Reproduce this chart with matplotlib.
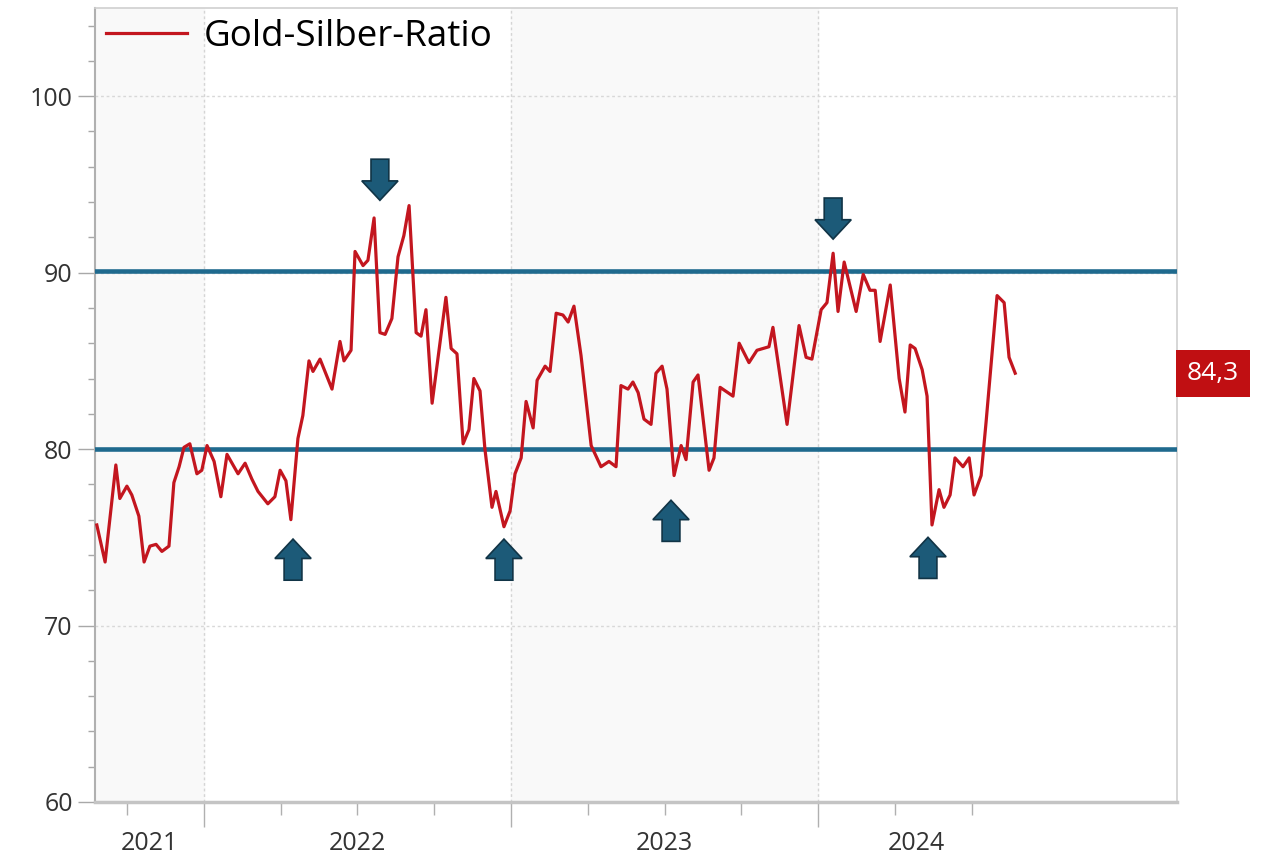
import matplotlib
matplotlib.use("Agg")
import matplotlib.pyplot as plt
import matplotlib.transforms as mtransforms
from matplotlib.patches import FancyArrow

plt.rcParams['font.family'] = ['Open Sans', 'DejaVu Sans']

zeit = [
    2021.651, 2021.678, 2021.713, 2021.726, 2021.749, 2021.765, 2021.788, 2021.805,
    2021.824, 2021.844, 2021.863, 2021.886, 2021.902, 2021.919, 2021.935, 2021.954,
    2021.977, 2021.993, 2022.010, 2022.033, 2022.055, 2022.075, 2022.111, 2022.134,
    2022.156, 2022.176, 2022.208, 2022.231, 2022.248, 2022.267, 2022.283, 2022.306,
    2022.322, 2022.342, 2022.355, 2022.378, 2022.417, 2022.443, 2022.456, 2022.479,
    2022.492, 2022.518, 2022.534, 2022.554, 2022.573, 2022.590, 2022.612, 2022.632,
    2022.651, 2022.668, 2022.691, 2022.707, 2022.723, 2022.743, 2022.788, 2022.805,
    2022.824, 2022.844, 2022.863, 2022.879, 2022.899, 2022.915, 2022.938, 2022.951,
    2022.977, 2022.997, 2023.013, 2023.033, 2023.049, 2023.072, 2023.085, 2023.111,
    2023.127, 2023.147, 2023.169, 2023.186, 2023.205, 2023.228, 2023.261, 2023.293,
    2023.319, 2023.342, 2023.358, 2023.381, 2023.397, 2023.414, 2023.433, 2023.456,
    2023.472, 2023.492, 2023.508, 2023.531, 2023.554, 2023.570, 2023.593, 2023.609,
    2023.645, 2023.661, 2023.681, 2023.723, 2023.743, 2023.775, 2023.801, 2023.840,
    2023.853, 2023.899, 2023.938, 2023.961, 2023.980, 2024.010, 2024.029, 2024.049,
    2024.065, 2024.085, 2024.124, 2024.147, 2024.169, 2024.186, 2024.202, 2024.235,
    2024.264, 2024.283, 2024.300, 2024.316, 2024.339, 2024.355, 2024.371, 2024.394,
    2024.410, 2024.430, 2024.446, 2024.472, 2024.492, 2024.508, 2024.531, 2024.547,
    2024.583, 2024.606, 2024.622, 2024.642,
]
ratio = [
    75.7, 73.6, 79.1, 77.2, 77.9, 77.4, 76.2, 73.6,
    74.5, 74.6, 74.2, 74.5, 78.1, 79.0, 80.1, 80.3,
    78.6, 78.8, 80.2, 79.3, 77.3, 79.7, 78.6, 79.2,
    78.3, 77.6, 76.9, 77.3, 78.8, 78.2, 76.0, 80.6,
    81.9, 85.0, 84.4, 85.1, 83.4, 86.1, 85.0, 85.6,
    91.2, 90.4, 90.7, 93.1, 86.6, 86.5, 87.4, 90.9,
    92.1, 93.8, 86.6, 86.4, 87.9, 82.6, 88.6, 85.7,
    85.4, 80.3, 81.1, 84.0, 83.3, 80.0, 76.7, 77.6,
    75.6, 76.5, 78.6, 79.5, 82.7, 81.2, 83.9, 84.7,
    84.4, 87.7, 87.6, 87.2, 88.1, 85.3, 80.2, 79.0,
    79.3, 79.0, 83.6, 83.4, 83.8, 83.2, 81.7, 81.4,
    84.3, 84.7, 83.4, 78.5, 80.2, 79.4, 83.8, 84.2,
    78.8, 79.5, 83.5, 83.0, 86.0, 84.9, 85.6, 85.8,
    86.9, 81.4, 87.0, 85.2, 85.1, 87.9, 88.3, 91.1,
    87.8, 90.6, 87.8, 89.9, 89.0, 89.0, 86.1, 89.3,
    84.0, 82.1, 85.9, 85.7, 84.5, 83.0, 75.7, 77.7,
    76.7, 77.4, 79.5, 79.0, 79.5, 77.4, 78.5, 81.5,
    88.7, 88.3, 85.2, 84.3,
]

band_oben = 90.1
band_unten = 80.0

# Pfeile: x, Spitze, Richtung (+1 hoch, -1 runter)
pfeil_x = [2022.29, 2022.573, 2022.977, 2023.521, 2024.049, 2024.358]
pfeil_spitze = [74.9, 94.1, 74.9, 77.1, 91.9, 75.0]
pfeil_richtung = [1, -1, 1, 1, -1, 1]

jahre = [2021, 2022, 2023, 2024]
x_min, x_max = 2021.645, 2025.169

fig = plt.figure(figsize=(12.73, 8.58), dpi=100)
ax = fig.add_axes([0.0746, 0.0653, 0.85, 0.9254])

# Hintergrund abwechselnd
ax.axvspan(x_min, 2022, color='#f9f9f9', zorder=0)
ax.axvspan(2023, 2024, color='#f9f9f9', zorder=0)

for j in [2022, 2023, 2024]:
    ax.axvline(j, color='#d5d5d5', lw=1, ls=(0, (2, 2)), zorder=1)
for yv in range(60, 101, 10):
    ax.axhline(yv, color='#d8d8d8', lw=1, ls=(0, (2, 2)), zorder=1)

ax.axhline(band_oben, color='#1f6a8e', lw=3.3, zorder=3)
ax.axhline(band_unten, color='#1f6a8e', lw=3.3, zorder=3)

ax.plot(zeit, ratio, color='#c3161f', lw=2.3, label='Gold-Silber-Ratio', zorder=4)

for px, sp, r in zip(pfeil_x, pfeil_spitze, pfeil_richtung):
    laenge = 2.33
    start = sp - r * laenge
    ax.add_patch(FancyArrow(px, start, 0, r * laenge, width=0.058, head_width=0.118,
                            head_length=1.1, length_includes_head=True,
                            facecolor='#1c5a78', edgecolor='#113446', lw=1.2, zorder=5))

ax.set_xlim(x_min, x_max)
ax.set_ylim(60, 105)

ax.set_yticks(range(60, 101, 10))
ax.set_yticks(range(60, 105, 2), minor=True)
ax.tick_params(axis='y', which='major', length=12, width=1, color='#a8a8a8',
               labelsize=18, labelcolor='#333333', pad=4)
ax.tick_params(axis='y', which='minor', length=5, width=1, color='#a8a8a8')

ax.set_xticks([2022, 2023, 2024])
quartale = [q for q in [2021.75 + 0.25 * i for i in range(12)] if q % 1 != 0 and q <= zeit[-1]]
ax.set_xticks(quartale, minor=True)
ax.set_xticklabels([])
ax.tick_params(axis='x', which='major', length=18, width=1, color='#b0b0b0')
ax.tick_params(axis='x', which='minor', length=9, width=1, color='#b0b0b0')

trans = ax.get_xaxis_transform()
for j in jahre:
    a = max(j, zeit[0] - 0.006)
    b = min(j + 1, zeit[-1])
    ax.text((a + b) / 2, -0.052, str(j), transform=trans, ha='center', va='center',
            fontsize=18, color='#333333')

for s in ['top', 'right']:
    ax.spines[s].set_color('#d0d0d0')
    ax.spines[s].set_linewidth(1.2)
ax.spines['left'].set_color('#b0b0b0')
ax.spines['left'].set_linewidth(1.5)
ax.spines['bottom'].set_color('#c4c4c4')
ax.spines['bottom'].set_linewidth(2.5)

leg = ax.legend(loc='upper left', frameon=False, fontsize=26.5, handlelength=2.2,
                handletextpad=0.45, borderaxespad=0.1, borderpad=0.2)

# letzter Wert rechts
trans_r = mtransforms.blended_transform_factory(ax.transAxes, ax.transData)
letzter = f"{ratio[-1]:.1f}".replace('.', ',')
ax.text(1.009, ratio[-1], letzter, transform=trans_r, ha='left', va='center',
        fontsize=19, color='white',
        bbox=dict(boxstyle='square,pad=0.42', facecolor='#c00f12', edgecolor='none'))

fig.savefig('out.png', dpi=100)
